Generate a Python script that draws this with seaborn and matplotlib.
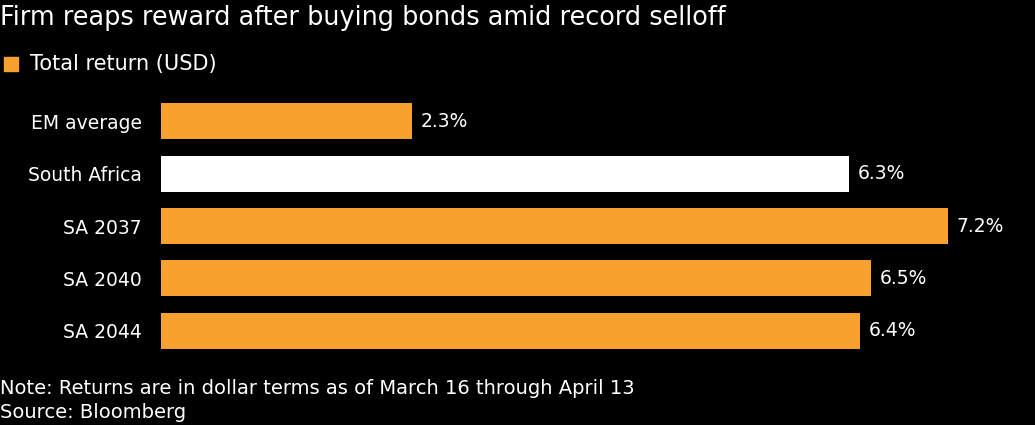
import matplotlib
matplotlib.use("Agg")
import matplotlib.pyplot as plt
import seaborn as sns
import pandas as pd

# chart data
categories = ["EM average", "South Africa", "SA 2037", "SA 2040", "SA 2044"]
returns = [2.3, 6.3, 7.2, 6.5, 6.4]
bar_colors = ["#F9A12E", "#FFFFFF", "#F9A12E", "#F9A12E", "#F9A12E"]

title = "Firm reaps reward after buying bonds amid record selloff"
legend_label = "Total return (USD)"
note = "Note: Returns are in dollar terms as of March 16 through April 13"
source = "Source: Bloomberg"

df = pd.DataFrame({"name": categories, "ret": returns})

sns.set_theme(style="dark")
plt.rcParams["font.family"] = ["DejaVu Sans"]

fig = plt.figure(figsize=(10.35, 4.25), dpi=100, facecolor="black")
ax = fig.add_axes([161 / 1035, 1 - 357 / 425, (1035 - 161) / 1035, 262 / 425])
ax.set_facecolor("black")

sns.barplot(data=df, x="ret", y="name", hue="name", palette=bar_colors,
            legend=False, width=0.69, ax=ax, saturation=1, linewidth=0)

# value labels at bar ends
for i, v in enumerate(returns):
    ax.text(v + 0.08, i, f"{v}%", color="white", va="center", ha="left",
            fontsize=13.5)

ax.set_xlim(0, 8)
ax.set_ylim(4.5, -0.5)
ax.set_xticks([])
ax.set_xlabel("")
ax.set_ylabel("")
ax.tick_params(axis="y", colors="white", labelsize=13.5, length=0, pad=14)
ax.grid(False)
for s in ax.spines.values():
    s.set_visible(False)

fig.text(0.0, 1 - 18 / 425, title, color="white", fontsize=18.4, va="center", ha="left")
fig.text(30 / 1035, 1 - 64 / 425, legend_label, color="white", fontsize=15,
         va="center", ha="left")
fig.patches.append(plt.Rectangle((4 / 1035, 1 - 71 / 425), 14 / 1035, 14 / 425,
                                 transform=fig.transFigure, color="#F9A12E",
                                 figure=fig))
fig.text(0.0, 1 - 388 / 425, note, color="white", fontsize=14, va="center", ha="left")
fig.text(0.0, 1 - 413 / 425, source, color="white", fontsize=14, va="center", ha="left")

fig.savefig("out.png", dpi=100, facecolor="black")
